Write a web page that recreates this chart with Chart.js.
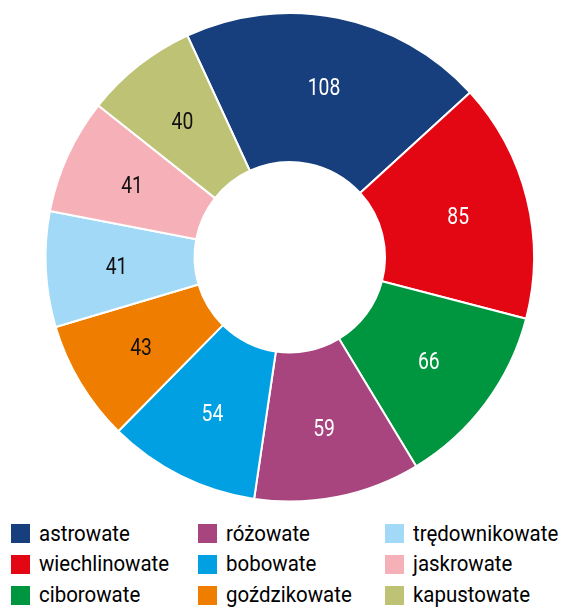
<!DOCTYPE html>
<html lang="pl">
<head>
<meta charset="utf-8">
<script src="https://cdn.jsdelivr.net/npm/chart.js@4/dist/chart.umd.min.js"></script>
<style>
  html, body { margin: 0; padding: 0; background: #fff; }
  #wrap { position: relative; width: 563px; height: 608px; overflow: hidden; }
  #chart { position: absolute; left: 0; top: 0; }
  #legend {
    position: absolute; left: 11px; top: 518.5px;
    display: grid;
    grid-auto-flow: column;
    grid-template-rows: repeat(3, 30.7px);
    grid-template-columns: repeat(3, 187px);
    font-family: Roboto, "Noto Sans", sans-serif;
    font-size: 22px; color: #000;
  }
  .item { display: flex; align-items: center; height: 30.7px; white-space: nowrap; }
  .box { width: 19px; height: 19px; flex: 0 0 19px; margin-right: 9px; }
  .txt { display: inline-block; transform: scaleX(0.93); transform-origin: left center; line-height: 30.7px; }
</style>
</head>
<body>
<div id="wrap">
  <canvas id="chart" width="563" height="510"></canvas>
  <div id="legend"></div>
</div>
<script>
// Plant families and the number of species in each
const categories = ['astrowate', 'wiechlinowate', 'ciborowate', 'różowate', 'bobowate',
                    'goździkowate', 'trędownikowate', 'jaskrowate', 'kapustowate'];
const counts = [108, 85, 66, 59, 54, 43, 41, 41, 40];

// Palette for the slices and for the numbers drawn on them
const sliceColors = ['#173F7D', '#E30613', '#00963F', '#A8457F', '#00A0E3',
                     '#EF7D00', '#A2D9F7', '#F6B0B7', '#BDC274'];
const valueColors = ['#ffffff', '#ffffff', '#ffffff', '#ffffff', '#ffffff',
                     '#111111', '#111111', '#111111', '#111111'];

// Draws each value on its slice, a little outside the ring's middle, in a narrowed type
const sliceValues = {
  id: 'sliceValues',
  afterDatasetsDraw(chart) {
    const ctx = chart.ctx;
    const meta = chart.getDatasetMeta(0);
    const data = chart.data.datasets[0].data;
    meta.data.forEach((arc, i) => {
      const { x, y, startAngle, endAngle, innerRadius, outerRadius } =
        arc.getProps(['x', 'y', 'startAngle', 'endAngle', 'innerRadius', 'outerRadius'], true);
      const a = (startAngle + endAngle) / 2;
      const r = innerRadius + 0.525 * (outerRadius - innerRadius);
      ctx.save();
      ctx.translate(x + Math.cos(a) * r, y + Math.sin(a) * r);
      ctx.scale(0.84, 1);
      ctx.font = '23px Roboto, "Noto Sans", sans-serif';
      ctx.textAlign = 'center';
      ctx.textBaseline = 'middle';
      ctx.fillStyle = valueColors[i];
      ctx.fillText(String(data[i]), 0, 2.5);
      ctx.restore();
    });
  }
};

const chart = new Chart(document.getElementById('chart'), {
  type: 'doughnut',
  data: {
    labels: categories,
    datasets: [{
      data: counts,
      backgroundColor: sliceColors,
      borderColor: '#ffffff',
      borderWidth: 2,
      hoverOffset: 0
    }]
  },
  options: {
    responsive: false,
    devicePixelRatio: 1,
    animation: false,
    cutout: '39%',
    rotation: -24.8,
    layout: { padding: { left: 44.5, right: 28, top: 12, bottom: 7.5 } },
    plugins: {
      legend: { display: false },
      tooltip: { enabled: false }
    }
  },
  plugins: [sliceValues]
});

// Legend laid out in columns, in the same order as the slices
const legend = document.getElementById('legend');
categories.forEach((name, i) => {
  const item = document.createElement('div');
  item.className = 'item';
  const box = document.createElement('span');
  box.className = 'box';
  box.style.background = sliceColors[i];
  const txt = document.createElement('span');
  txt.className = 'txt';
  txt.textContent = name;
  item.appendChild(box);
  item.appendChild(txt);
  legend.appendChild(item);
});
</script>
</body>
</html>
